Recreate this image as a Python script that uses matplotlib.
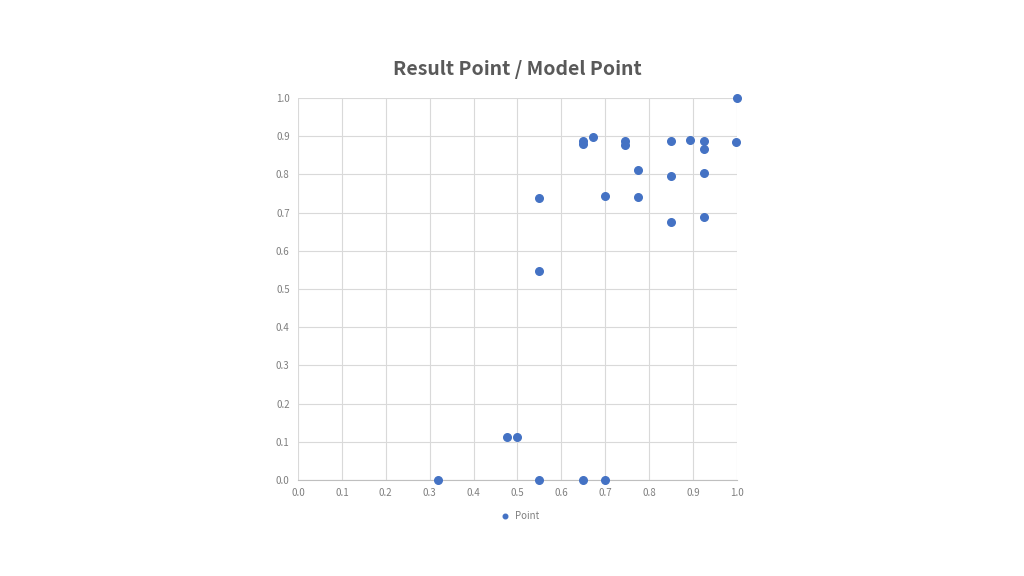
import matplotlib
matplotlib.use("Agg")
import matplotlib.pyplot as plt

plt.rcParams['font.family'] = ['Noto Sans CJK JP', 'DejaVu Sans']

# Model Point (x) / Result Point (y)
model_pt = [1.0, 0.65, 0.65, 0.673, 0.746, 0.746, 0.849, 0.894, 0.924, 0.924, 0.998,
            0.774, 0.849, 0.924, 0.699, 0.774, 0.849, 0.924,
            0.55, 0.55, 0.32, 0.475, 0.499, 0.55, 0.65, 0.699]
result_pt = [1.0, 0.887, 0.880, 0.898, 0.887, 0.877, 0.887, 0.890, 0.887, 0.866, 0.885,
             0.812, 0.796, 0.804, 0.743, 0.741, 0.675, 0.688,
             0.739, 0.547, 0.0, 0.112, 0.112, 0.0, 0.0, 0.0]

ticks = [0.0, 0.1, 0.2, 0.3, 0.4, 0.5, 0.6, 0.7, 0.8, 0.9, 1.0]

fig = plt.figure(figsize=(10.24, 5.76), dpi=100)
ax = fig.add_axes([0.291, 0.1667, 0.4287, 0.6632])

ax.scatter(model_pt, result_pt, s=30, color='#4472C4', zorder=3, label='Point',
           clip_on=False)

ax.set_xlim(0, 1)
ax.set_ylim(0, 1)
ax.set_xticks(ticks)
ax.set_yticks(ticks)
ax.set_xticklabels([f"{t:.1f}" for t in ticks])
ax.set_yticklabels([f"{t:.1f}" for t in ticks])
ax.grid(True, color='#d9d9d9', linewidth=0.8)
ax.set_axisbelow(True)
for s in ['top', 'right', 'left']:
    ax.spines[s].set_visible(False)
ax.spines['bottom'].set_color('#bfbfbf')
ax.tick_params(length=0, labelsize=7, labelcolor='#7f7f7f', pad=6)

fig.text(0.5055, 0.88, 'Result Point / Model Point', ha='center', va='center',
         fontsize=14, fontweight='bold', color='#595959')

ax.legend(loc='upper center', bbox_to_anchor=(0.5, -0.058), frameon=False,
          fontsize=7, labelcolor='#7f7f7f', handletextpad=0.0, markerscale=0.6)

fig.savefig('out.png', dpi=100)
